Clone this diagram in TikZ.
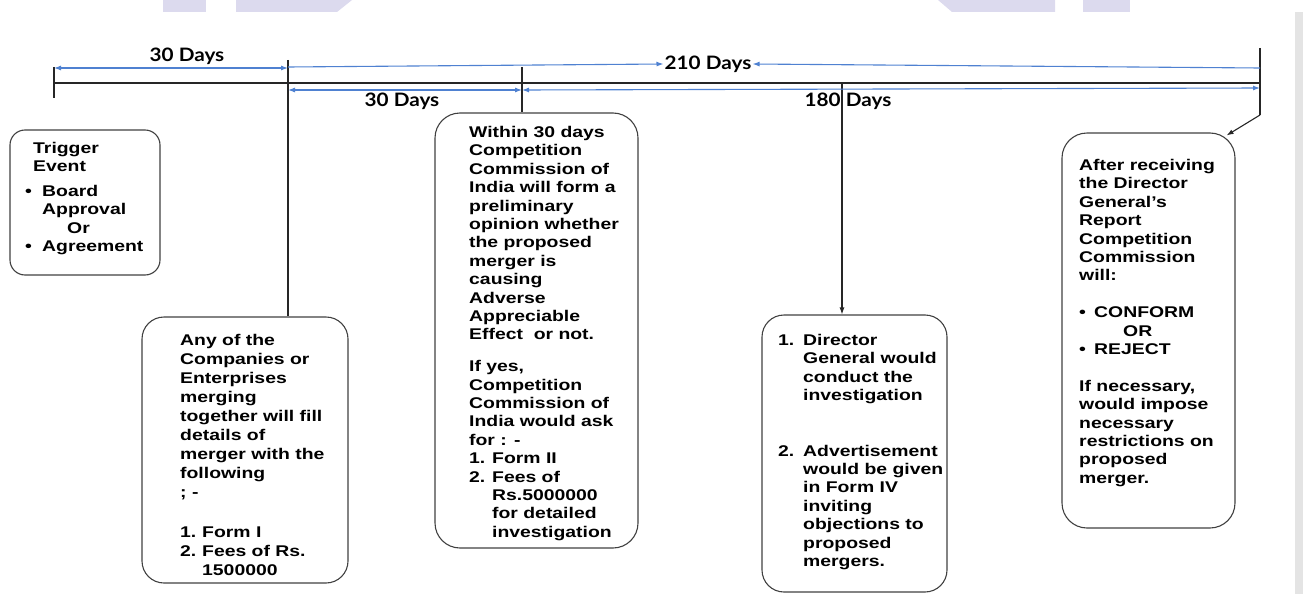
\documentclass[tikz,border=0pt]{standalone}
\usepackage{fontspec}
\setmainfont{Liberation Sans}[FakeStretch=1.25]
\newfontfamily\labfont{Lato}[FakeStretch=1.12]
\usetikzlibrary{arrows.meta,calc}
\definecolor{tlblue}{RGB}{79,129,209}
\definecolor{boxgray}{RGB}{64,64,64}
\definecolor{wm}{RGB}{220,218,238}
\definecolor{sidebar}{RGB}{228,228,228}
\begin{document}
\begin{tikzpicture}[x=1pt,y=-1pt,
  box/.style={draw=boxgray, line width=1.1pt, rounded corners=22pt, inner sep=0pt},
  txt/.style={anchor=north west, align=left, inner sep=0pt, font=\fontsize{15.5}{18.4}\selectfont\bfseries},
  lab/.style={font=\labfont\fontsize{18.5}{20}\selectfont\bfseries, inner sep=1pt},
  bl/.style={draw=tlblue, line width=1.1pt},
  btip/.style={{Latex[length=7pt,width=5pt]}-{Latex[length=7pt,width=5pt]}},
  rtip/.style={-{Latex[length=7pt,width=5pt]}},
  blk/.style={draw=black!85, line width=1.1pt}]
\useasboundingbox (0,0) rectangle (1303,594);
% watermark remnants and side bar
\fill[wm] (163,0) rectangle (206,12);
\fill[wm] (236,0) -- (352,0) -- (337,12) -- (236,12) -- cycle;
\fill[wm] (938,0) -- (1055,0) -- (1055,12) -- (952,12) -- cycle;
\fill[wm] (1083,0) rectangle (1130,12);
\fill[sidebar] (1295,12) rectangle (1303,594);

% timeline coordinates
\coordinate (t0) at (54,83);
\coordinate (t0a) at (54,67);
\coordinate (t0b) at (54,98);
\coordinate (t1) at (288,60);
\coordinate (t2) at (522,67);
\coordinate (t3) at (842,83);
\coordinate (t4) at (1260,48);
\coordinate (t4m) at (1260,83);
\coordinate (t4b) at (1260,115);

% boxes
\node[box, rounded corners=15pt, minimum width=150pt, minimum height=145pt] (b1) at (85,202.5) {};
\node[box, minimum width=206pt, minimum height=266pt] (b2) at (245,450) {};
\node[box, rounded corners=25pt, minimum width=203pt, minimum height=435pt] (b3) at (536.5,330.5) {};
\node[box, minimum width=185pt, minimum height=277pt] (b4) at (854.5,453.5) {};
\node[box, rounded corners=25pt, minimum width=173pt, minimum height=395pt] (b5) at (1148.5,330.5) {};

% box texts
\node[txt] (x1) at (25,142) {\hspace*{8pt}Trigger\\\hspace*{8pt}Event\\[6pt]
\makebox[17pt][l]{\textbullet}Board\\\hspace*{17pt}Approval\\\hspace*{42pt}Or\\\makebox[17pt][l]{\textbullet}Agreement};
\node[txt, font=\fontsize{15.5}{19}\selectfont\bfseries] (x2) at (180,334) {Any of the\\Companies or\\Enterprises\\merging\\together will fill\\details of\\merger with the\\following\\; -\\[21pt]
\makebox[22pt][l]{1.}Form I\\\makebox[22pt][l]{2.}Fees of Rs.\\\hspace*{22pt}1500000};
\node[txt] (x3) at (469,126) {Within 30 days\\Competition\\Commission of\\India will form a\\preliminary\\opinion whether\\the proposed\\merger is\\causing\\Adverse\\Appreciable\\Effect~ or not.\\[13.5pt]
If yes,\\Competition\\Commission of\\India would ask\\for : -\\\makebox[23pt][l]{1.}Form II\\\makebox[23pt][l]{2.}Fees of\\\hspace*{23pt}Rs.5000000\\\hspace*{23pt}for detailed\\\hspace*{23pt}investigation};
\node[txt] (x4) at (778,334) {\makebox[25pt][l]{1.}Director\\\hspace*{25pt}General would\\\hspace*{25pt}conduct the\\\hspace*{25pt}investigation\\[37pt]
\makebox[25pt][l]{2.}Advertisement\\\hspace*{25pt}would be given\\\hspace*{25pt}in Form IV\\\hspace*{25pt}inviting\\\hspace*{25pt}objections to\\\hspace*{25pt}proposed\\\hspace*{25pt}mergers.};
\node[txt] (x5) at (1079,159) {After receiving\\the Director\\General’s\\Report\\Competition\\Commission\\will:\\[18.4pt]
\makebox[15pt][l]{\textbullet}CONFORM\\\hspace*{44pt}OR\\\makebox[15pt][l]{\textbullet}REJECT\\[18.4pt]
If necessary,\\would impose\\necessary\\restrictions on\\proposed\\merger.};

% timeline labels
\node[lab] (l30a) at (187,56) {30 Days};
\node[lab] (l210) at (708,64) {210 Days};
\node[lab] (l30b) at (402,101) {30 Days};
\node[lab] (l180) at (848,101) {180 Days};

% black timeline
\draw[blk] (t0) -- (t4m);
\draw[blk] (t0a) -- (t0b);
\draw[blk] (t1) -- (t1 |- b2.north);
\draw[blk] (t2) -- (t2 |- b3.north);
\draw[blk, rtip] (t3) -- (t3 |- b4.north);
\coordinate (b5c) at ($(b5.north east)+(-9,3)$);
\draw[blk] (t4) -- (t4b);
\draw[blk, rtip] (t4b) -- (b5c);

% blue interval arrows
\draw[bl, btip] (54,68) -- (288,68);
\draw[bl, rtip] (288,67) -- (l210.west);
\draw[bl, rtip] (1260,68) -- (l210.east);
\draw[bl, btip] (288,90) -- (522,90);
\draw[bl, btip] (522,90) -- (1260,88);
\end{tikzpicture}
\end{document}
